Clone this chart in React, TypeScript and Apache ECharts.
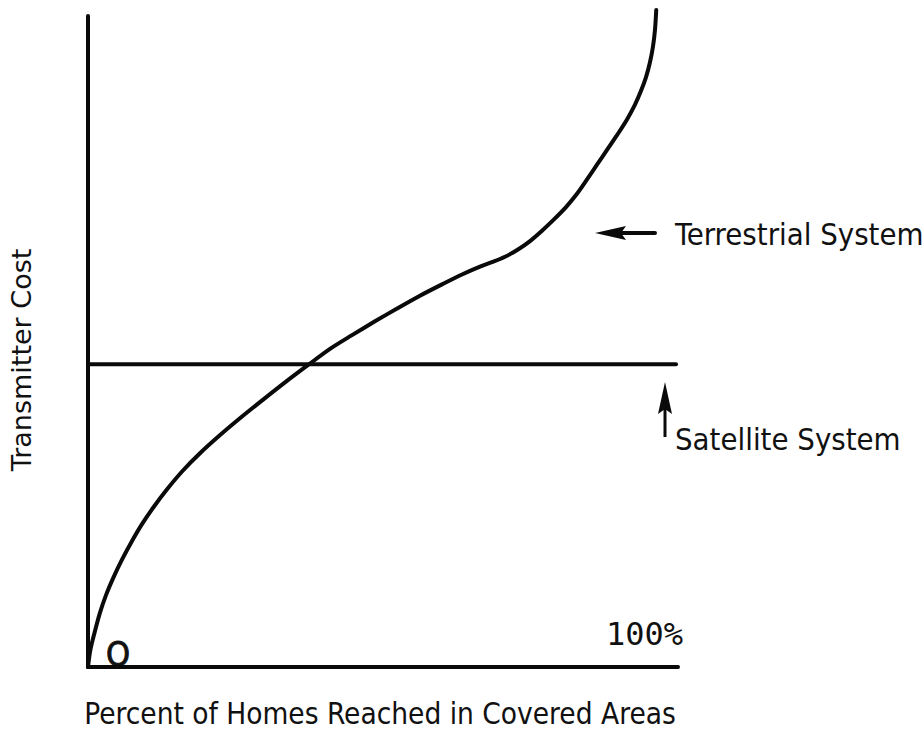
import React, { useEffect, useRef } from "react";
import * as echarts from "echarts";

// Terrestrial system cost curve: [percent of homes reached, transmitter cost (relative)]
const terrestrialX = [0, 0.39, 1.12, 1.97, 3.05, 4.32, 5.76, 7.37, 9.15, 11.19, 13.47, 16.02, 18.98, 22.29, 25.85, 29.58, 33.39, 37.37, 41.02, 44.75, 48.64, 52.54, 56.27, 60.0, 63.39, 66.44, 68.47, 70.68, 72.88, 74.92, 76.95, 78.98, 81.02, 82.88, 84.58, 86.27, 87.97, 89.66, 91.36, 92.71, 93.73, 94.58, 95.25, 95.76, 96.1, 96.31];
const terrestrialY = [0, 2.57, 5.3, 8.17, 11.04, 13.77, 16.49, 19.21, 21.94, 24.66, 27.38, 30.11, 32.83, 35.55, 38.28, 41.0, 43.72, 46.44, 48.87, 50.98, 53.1, 55.14, 57.03, 58.77, 60.29, 61.5, 62.18, 63.01, 64.14, 65.43, 67.02, 68.76, 70.65, 72.69, 74.89, 77.16, 79.43, 81.69, 84.11, 86.38, 88.5, 90.62, 92.89, 95.31, 97.88, 100.91];

// Satellite system: constant cost
const satelliteX = [0, 99.66];
const satelliteY = [46.52, 46.52];

const xAxisTitle = "Percent of Homes Reached in Covered Areas";
const yAxisTitle = "Transmitter Cost";
const originLabel = "O";
const endLabel = "100%";
const terrestrialLabel = "Terrestrial System";
const satelliteLabel = "Satellite System";

const LABEL_FONT = '"DejaVu Sans Condensed", "DejaVu Sans", sans-serif';

export default function App() {
  const ref = useRef<HTMLDivElement>(null);

  useEffect(() => {
    if (!ref.current) return;
    const chart = echarts.init(ref.current, null, { renderer: "svg" });
    const lineColor = "#0a0a0a";
    const textColor = "#111111";
    chart.setOption({
      animation: false,
      backgroundColor: "#ffffff",
      grid: { left: 88, right: 246, top: 16, bottom: 57, containLabel: false },
      xAxis: {
        type: "value",
        min: 0,
        max: 100,
        axisLine: { show: true, lineStyle: { color: lineColor, width: 4, cap: "round" } },
        axisTick: { show: false },
        axisLabel: { show: false },
        splitLine: { show: false },
        name: xAxisTitle,
        nameLocation: "middle",
        nameGap: 32,
        nameTextStyle: { fontFamily: LABEL_FONT, fontSize: 29.5, color: textColor, padding: [0, 6, 0, 0] },
      },
      yAxis: {
        type: "value",
        min: 0,
        max: 100,
        axisLine: { show: true, lineStyle: { color: lineColor, width: 4, cap: "round" } },
        axisTick: { show: false },
        axisLabel: { show: false },
        splitLine: { show: false },
      },
      series: [
        {
          type: "line",
          name: "Terrestrial System",
          data: terrestrialX.map((x, i) => [x, terrestrialY[i]]),
          showSymbol: false,
          smooth: 0.3,
          clip: false,
          lineStyle: { color: lineColor, width: 4, cap: "round", join: "round" },
        },
        {
          type: "line",
          name: "Satellite System",
          data: satelliteX.map((x, i) => [x, satelliteY[i]]),
          showSymbol: false,
          clip: false,
          lineStyle: { color: lineColor, width: 4, cap: "round" },
        },
      ],
      graphic: [
        {
          type: "text",
          x: 21,
          y: 360,
          rotation: Math.PI / 2,
          style: {
            text: yAxisTitle,
            fontSize: 27,
            fontFamily: '"DejaVu Sans", sans-serif',
            fill: textColor,
            align: "center",
            verticalAlign: "middle",
          },
        },
        {
          type: "text",
          x: 118,
          y: 654,
          style: {
            text: originLabel,
            fontSize: 34,
            fontFamily: LABEL_FONT,
            fill: textColor,
            stroke: textColor,
            lineWidth: 0.9,
            align: "center",
            verticalAlign: "middle",
          },
        },
        {
          type: "text",
          x: 606,
          y: 634,
          style: {
            text: endLabel,
            fontSize: 32,
            fontFamily: '"DejaVu Sans Mono", monospace',
            fill: textColor,
            align: "left",
            verticalAlign: "middle",
          },
        },
        {
          type: "text",
          x: 675,
          y: 234,
          style: {
            text: terrestrialLabel,
            fontSize: 30.8,
            fontFamily: LABEL_FONT,
            fill: textColor,
            align: "left",
            verticalAlign: "middle",
          },
        },
        {
          type: "text",
          x: 675,
          y: 439,
          style: {
            text: satelliteLabel,
            fontSize: 30.8,
            fontFamily: LABEL_FONT,
            fill: textColor,
            align: "left",
            verticalAlign: "middle",
          },
        },
        // Terrestrial arrow (pointing left)
        {
          type: "line",
          shape: { x1: 620, y1: 233, x2: 655, y2: 233 },
          style: { stroke: lineColor, lineWidth: 4, lineCap: "round" },
        },
        {
          type: "polygon",
          shape: { points: [[595, 233], [626, 226], [621, 233], [626, 240]] },
          style: { fill: lineColor },
        },
        // Satellite arrow (pointing up)
        {
          type: "line",
          shape: { x1: 665, y1: 405, x2: 665, y2: 437 },
          style: { stroke: lineColor, lineWidth: 3 },
        },
        {
          type: "polygon",
          shape: { points: [[665, 382], [672, 414], [665, 409], [658, 414]] },
          style: { fill: lineColor },
        },
      ],
    });
    return () => chart.dispose();
  }, []);

  return <div ref={ref} style={{ width: 924, height: 734, position: "absolute", left: 0, top: 0 }} />;
}
